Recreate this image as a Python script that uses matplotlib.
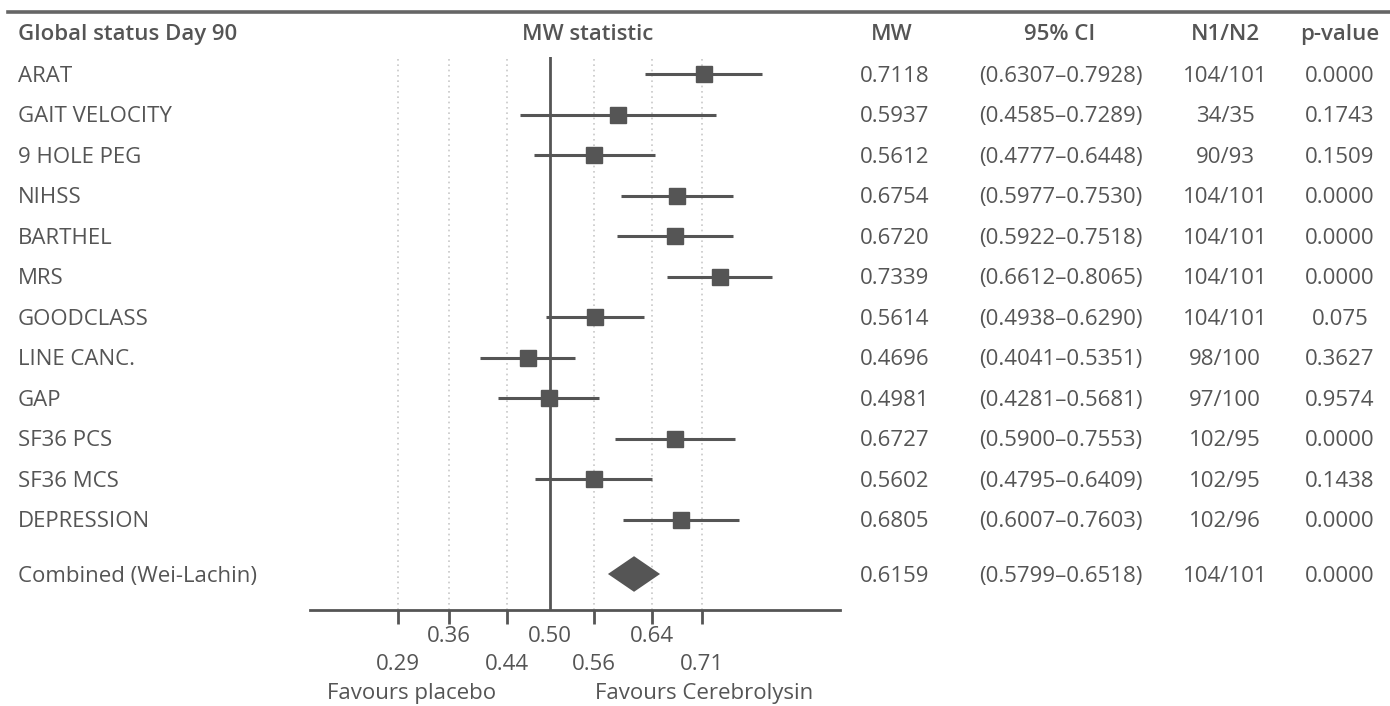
import matplotlib
matplotlib.use("Agg")
import matplotlib.pyplot as plt
import matplotlib.transforms as mtransforms

plt.rcParams['font.family'] = ['Open Sans', 'DejaVu Sans']

labels = ["ARAT", "GAIT VELOCITY", "9 HOLE PEG", "NIHSS", "BARTHEL", "MRS",
          "GOODCLASS", "LINE CANC.", "GAP", "SF36 PCS", "SF36 MCS", "DEPRESSION"]
mw = [0.7118, 0.5937, 0.5612, 0.6754, 0.6720, 0.7339, 0.5614, 0.4696, 0.4981,
      0.6727, 0.5602, 0.6805]
ci_lo = [0.6307, 0.4585, 0.4777, 0.5977, 0.5922, 0.6612, 0.4938, 0.4041, 0.4281,
         0.5900, 0.4795, 0.6007]
ci_hi = [0.7928, 0.7289, 0.6448, 0.7530, 0.7518, 0.8065, 0.6290, 0.5351, 0.5681,
         0.7553, 0.6409, 0.7603]
n1n2 = ["104/101", "34/35", "90/93", "104/101", "104/101", "104/101", "104/101",
        "98/100", "97/100", "102/95", "102/95", "102/96"]
pvals = ["0.0000", "0.1743", "0.1509", "0.0000", "0.0000", "0.0000", "0.075",
         "0.3627", "0.9574", "0.0000", "0.1438", "0.0000"]

comb_label = "Combined (Wei-Lachin)"
comb_mw = 0.6159
comb_lo = 0.5799
comb_hi = 0.6518
comb_n = "104/101"
comb_p = "0.0000"

major_ticks = [0.29, 0.44, 0.56, 0.71]
minor_ticks = [0.36, 0.50, 0.64]

headers = ["Global status Day 90", "MW statistic", "MW", "95% CI", "N1/N2", "p-value"]

W, H = 1390, 706
TXT = "#555555"
MARK = "#555555"
FS = 16

fig = plt.figure(figsize=(W / 100, H / 100), dpi=100)
ax_top, ax_bot = 57, 610
ax = fig.add_axes([310 / W, 1 - ax_bot / H, 530 / W, (ax_bot - ax_top) / H])

row_gap = 40.5
n = len(labels)
ys = list(range(n))
comb_y = (574 - 74) / row_gap
ax.set_ylim((ax_bot - 74) / row_gap, (ax_top - 74) / row_gap)
ax.set_xlim(0.5 - 240 / 725, 0.5 + 290 / 725)

# grid lines
for t in major_ticks + minor_ticks:
    if t == 0.50:
        ax.axvline(t, color=MARK, lw=2, zorder=2)
    else:
        ax.axvline(t, color="#c8c8c8", lw=1.2, ls=(0, (1, 2.2)), zorder=1)

ax.hlines(ys, ci_lo, ci_hi, color=MARK, lw=2.2, zorder=3)
ax.plot(mw, ys, ls="none", marker="s", ms=11, color=MARK, zorder=4)

dh = 0.44
ax.fill([comb_lo, comb_mw, comb_hi, comb_mw],
        [comb_y, comb_y - dh, comb_y, comb_y + dh], color=MARK, lw=0, zorder=4)

for s in ["top", "left", "right"]:
    ax.spines[s].set_visible(False)
ax.spines["bottom"].set_color(MARK)
ax.spines["bottom"].set_linewidth(2)
ax.set_yticks([])
ax.set_xticks(major_ticks)
ax.set_xticks(minor_ticks, minor=True)
ax.set_xticklabels([f"{t:.2f}" for t in major_ticks])
ax.set_xticklabels([f"{t:.2f}" for t in minor_ticks], minor=True)
ax.tick_params(axis="x", which="both", direction="out", length=10, width=2,
               color=MARK, labelcolor=TXT, labelsize=FS)
ax.tick_params(axis="x", which="major", pad=21.5)
ax.tick_params(axis="x", which="minor", pad=1.5)
for t, v in zip(ax.xaxis.get_minor_ticks(), minor_ticks):
    if v == 0.50:
        t.tick1line.set_visible(False)

# shift so that the cap-height middle sits on the row centre
shift = mtransforms.ScaledTranslation(0, -0.078, fig.dpi_scale_trans)
btrans = mtransforms.blended_transform_factory(fig.transFigure, ax.transData) + shift
ftrans = fig.transFigure + shift


def fx(px):
    return px / W


all_labels = labels + [comb_label]
all_y = ys + [comb_y]
all_mw = mw + [comb_mw]
all_lo = ci_lo + [comb_lo]
all_hi = ci_hi + [comb_hi]
all_n = n1n2 + [comb_n]
all_p = pvals + [comb_p]

for lab, y, m, lo, hi, nn, p in zip(all_labels, all_y, all_mw, all_lo, all_hi, all_n, all_p):
    kw = dict(transform=btrans, va="baseline", color=TXT, fontsize=FS)
    fig.text(fx(18), y, lab, ha="left", **kw)
    fig.text(fx(895), y, f"{m:.4f}", ha="center", **kw)
    fig.text(fx(1061), y, f"({lo:.4f}\u2013{hi:.4f})", ha="center", **kw)
    fig.text(fx(1225), y, nn, ha="center", **kw)
    fig.text(fx(1340), y, p, ha="center", **kw)

hy = 1 - 32 / H
hkw = dict(va="baseline", color=TXT, fontsize=FS, fontweight="semibold", transform=ftrans)
fig.text(fx(18), hy, headers[0], ha="left", **hkw)
fig.text(fx(588), hy, headers[1], ha="center", **hkw)
fig.text(fx(892), hy, headers[2], ha="center", **hkw)
fig.text(fx(1060), hy, headers[3], ha="center", **hkw)
fig.text(fx(1225), hy, headers[4], ha="center", **hkw)
fig.text(fx(1340), hy, headers[5], ha="center", **hkw)

fig.add_artist(plt.Line2D([fx(8), 1.0], [1 - 12 / H, 1 - 12 / H], color="#666666", lw=2.6))

fig.text(fx(412), 1 - 693 / H, "Favours placebo", ha="center", va="center", color=TXT, fontsize=FS)
fig.text(fx(704), 1 - 693 / H, "Favours Cerebrolysin", ha="center", va="center", color=TXT, fontsize=FS)

fig.savefig("out.png", dpi=100, facecolor="white")
